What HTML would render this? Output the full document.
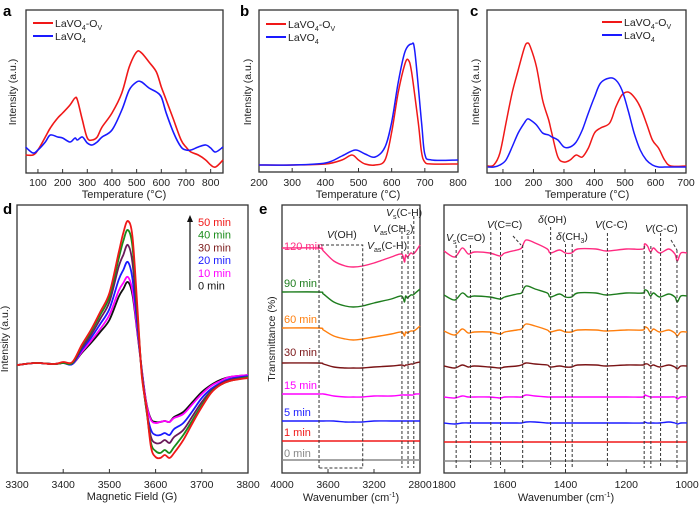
<!DOCTYPE html>
<html><head><meta charset="utf-8"><style>
body{margin:0;background:#fff;}
svg{display:block;font-family:"Liberation Sans",sans-serif;}
</style></head><body>
<svg id="fig" width="700" height="505" viewBox="0 0 700 505"></svg>
<script>
// ---------- DATA ----------
const aTemp=[50,80,100,130,150,180,200,230,250,260,280,300,320,340,360,400,440,470,500,520,550,580,600,620,650,680,700,720,750,780,800,820,850];
const aOv=[18,18,23,36,45,55,60,68,75,73,53,35,33,36,46,60,80,106,121,120,111,101,86,73,53,33,26,21,18,13,8,6,13];
const aBulk=[26,20,23,31,38,36,35,31,35,33,36,30,28,31,36,43,63,83,91,91,85,81,76,60,40,26,23,23,26,28,25,21,26];
const bTempOv=[200,300,400,450,480,500,520,550,580,600,620,640,650,660,680,690,700,720,800];
const bOv=[7,7,8,12,17,12,8,7,12,40,80,108,112,100,50,20,10,8,8];
const bTempBulk=[200,300,400,450,490,520,550,580,600,620,640,660,670,690,700,720,800];
const bBulk=[7,7,9,16,22,18,15,25,50,90,120,128,120,50,18,12,12];
const cTemp=[50,70,90,110,130,150,170,180,190,210,230,250,260,280,300,320,340,360,380,400,420,450,470,490,510,530,550,570,590,610,630,650,700];
const cOv=[7,8,20,50,80,103,125,130,126,106,73,53,40,16,11,13,18,16,25,40,45,50,66,78,81,76,66,50,33,25,13,7,7];
const cBulk=[6,6,8,13,26,40,50,54,53,48,40,38,36,33,26,26,31,43,60,76,90,95,93,83,63,40,23,13,8,6,6,6,6];
const dField=[3300,3340,3380,3400,3420,3440,3460,3480,3500,3520,3530,3540,3550,3560,3570,3580,3590,3600,3610,3620,3630,3640,3660,3680,3700,3720,3740,3760,3800];
const d0=[0,2,1,2,1,12,22,33,45,68,76,83,70,34,-4,-38,-54,-57,-57,-56,-57,-52,-47,-37,-27,-20,-15,-12,-10];
const d10=[0,2,1,2,1,13,24,36,50,74,82,88,74,36,-4,-39,-55,-58,-57,-56,-57,-53,-49,-39,-29,-21,-16,-12,-10];
const d20=[0,2,1,2,1,15,27,41,56,85,95,103,86,42,-6,-44,-65,-70,-70,-68,-70,-64,-58,-46,-33,-24,-18,-14,-11];
const d30=[0,2,1,2,2,17,30,46,63,98,110,120,102,50,-7,-45,-72,-78,-78,-75,-78,-72,-65,-51,-37,-26,-19,-15,-12];
const d40=[0,2,1,2,2,19,33,50,68,106,124,135,118,56,-8,-44,-78,-86,-88,-85,-88,-82,-70,-55,-40,-27,-20,-16,-12];
const d50=[0,2,1,3,3,20,35,53,72,112,132,144,128,62,-10,-42,-82,-92,-93,-90,-93,-88,-75,-58,-42,-28,-20,-16,-13];
const eWnL=[4000,3680,3640,3550,3450,3380,3300,3200,3050,2960,2935,2925,2910,2880,2860,2840,2800];
const eL120=[225,225,222,212,207,206,207,210,216,219,211,218,216,220,219,221,228];
const eL90=[181,181,179,171,167,166,167,170,174,177,171,177,175,178,178,180,184];
const eL60=[145,145,143,137,134,133,134,136,139,141,137,141,140,142,142,143,147];
const eL30=[110,110,109,106,105,105,105,106,107,108,107,108,108,109,109,110,111];
const eL15=[79,79,79,77,76,76,76,77,77,78,78,78,78,78,78,79,79];
const eL5=[52,52,52,52,51,51,51,52,52,52,52,52,52,52,52,52,52];
const eL1=[32,32,32,32,32,32,32,32,32,32,32,32,32,32,32,32,32];
const eL0=[13,13,13,13,13,13,13,13,13,13,13,13,13,13,13,13,13];
const eWnR=[1800,1765,1740,1720,1700,1650,1615,1600,1560,1545,1530,1500,1460,1450,1420,1400,1380,1360,1300,1265,1200,1145,1140,1130,1120,1110,1090,1060,1040,1032,1020,1000];
const eR120=[222,216,225,219,221,220,217,220,223,225,233,230,224,220,223,220,220,224,224,222,224,224,229,227,221,225,220,224,219,212,220,220];
const eR90=[178,173,180,176,177,176,174,176,179,180,187,184,180,176,179,176,176,180,180,178,180,180,183,182,177,180,176,179,176,171,177,177];
const eR60=[142,138,144,140,141,141,139,141,143,144,149,147,143,141,143,141,141,143,143,142,143,143,146,145,141,144,141,143,140,137,141,141];
const eR30=[107,105,108,106,107,106,105,106,107,108,110,109,108,106,107,106,106,108,108,107,108,108,109,109,107,108,106,108,106,104,107,107];
const eR15=[76,75,77,76,76,76,75,76,76,76,78,77,76,76,76,76,76,76,76,76,76,76,78,77,76,76,76,76,76,74,76,76];
const eR5=[50,49,50,50,50,50,50,50,50,50,51,51,50,50,50,50,50,50,50,50,50,50,51,50,50,50,50,51,50,49,50,50];
const eR1=[31,31,31,31,31,31,31,31,31,31,31,31,31,31,31,31,31,31,31,31,31,31,31,31,31,31,31,31,31,31,31,31];
const eR0=[12,12,12,12,12,12,12,12,12,12,12,12,12,12,12,12,12,12,12,12,12,12,12,12,12,12,12,12,12,12,12,12];
const aTicks=[100,200,300,400,500,600,700,800];
const bTicks=[200,300,400,500,600,700,800];
const cTicks=[100,200,300,400,500,600,700];
const dTicks=[3300,3400,3500,3600,3700,3800];
const eTicksL=[4000,3600,3200,2800];
const eTicksR=[1800,1600,1400,1200,1000];
const dLabels=['50 min','40 min','30 min','20 min','10 min','0 min'];
const eLabels=['120 min','90 min','60 min','30 min','15 min','5 min','1 min','0 min'];

// ---------- HELPERS ----------
const NS='http://www.w3.org/2000/svg';
const svg=document.getElementById('fig');
function mk(tag,attrs,parent){const e=document.createElementNS(NS,tag);for(const k in attrs)e.setAttribute(k,attrs[k]);(parent||svg).appendChild(e);return e;}
function lin(d0,d1,r0,r1){return v=>r0+(v-d0)*(r1-r0)/(d1-d0);}
function smooth(pts){let d='M'+pts[0][0].toFixed(1)+','+pts[0][1].toFixed(1);
 for(let i=0;i<pts.length-1;i++){const p0=pts[Math.max(i-1,0)],p1=pts[i],p2=pts[i+1],p3=pts[Math.min(i+2,pts.length-1)];
  const c1=[p1[0]+(p2[0]-p0[0])/6,p1[1]+(p2[1]-p0[1])/6],c2=[p2[0]-(p3[0]-p1[0])/6,p2[1]-(p3[1]-p1[1])/6];
  d+='C'+c1[0].toFixed(1)+','+c1[1].toFixed(1)+' '+c2[0].toFixed(1)+','+c2[1].toFixed(1)+' '+p2[0].toFixed(1)+','+p2[1].toFixed(1);}
 return d;}
function series(xs,ys,sx,sy,color,name,w){const p=mk('path',{d:smooth(xs.map((x,i)=>[sx(x),sy(ys[i])])),fill:'none',stroke:color,'stroke-width':w||1.5,'stroke-linejoin':'round'});
 
 return p;}
function txt(x,y,s,attrs,name){const t=mk('text',Object.assign({x:x,y:y,'font-size':11,fill:'#222'},attrs||{}));t.innerHTML=s;
 
 return t;}
function box(x0,y0,x1,y1,name){const r=mk('rect',{x:x0,y:y0,width:x1-x0,height:y1-y0,fill:'none',stroke:'#333','stroke-width':1.3});
 
 }
function xaxis(ticks,sx,y,ly,name){ticks.forEach(t=>{const l=mk('line',{x1:sx(t),x2:sx(t),y1:y,y2:y-4,stroke:'#333','stroke-width':1});
 
 
 txt(sx(t),ly,t,{'text-anchor':'middle','font-size':10.5},name+'-tick-label');});}
function ytitle(x,y,s,name){const t=txt(x,y,s,{'text-anchor':'middle',transform:'rotate(-90 '+x+' '+y+')','font-size':10.5},name);}
function legendLine(x,y,color,label,name){const l=mk('line',{x1:x,x2:x+20,y1:y,y2:y,stroke:color,'stroke-width':2});
 
 
 txt(x+22,y+4,label,{'font-size':10.5},name+'-label');}
const ovLabel='LaVO<tspan font-size="7" dy="3">4</tspan><tspan dy="-3">-O</tspan><tspan font-size="7" dy="3">V</tspan>';
const bulkLabel='LaVO<tspan font-size="7" dy="3">4</tspan>';
const RED='#f01818',BLUE='#1a1aff';

// ---------- PANEL A ----------
(function(){const sx=lin(50,850,25.6,223),sy=v=>173-v;
 box(26,10,223,173,'panel-a-frame');
 series(aTemp,aOv,sx,sy,RED,'panel-a-lavo4-ov-line',1.6);
 series(aTemp,aBulk,sx,sy,BLUE,'panel-a-lavo4-line',1.6);
 xaxis(aTicks,sx,173,186,'panel-a-x');
 txt(124,198,'Temperature (°C)',{'text-anchor':'middle','font-size':11},'panel-a-x-title');
 ytitle(16,92,'Intensity (a.u.)','panel-a-y-title');
 legendLine(33,23,RED,ovLabel,'panel-a-legend-ov');legendLine(33,36,BLUE,bulkLabel,'panel-a-legend-bulk');
 txt(3,16,'a',{'font-size':15,'font-weight':'bold',fill:'#000'},'panel-a-letter');})();
// ---------- PANEL B ----------
(function(){const sx=lin(200,800,259,458),sy=v=>172-v;
 box(259,10,458,172,'panel-b-frame');
 series(bTempOv,bOv,sx,sy,RED,'panel-b-lavo4-ov-line');
 series(bTempBulk,bBulk,sx,sy,BLUE,'panel-b-lavo4-line');
 xaxis(bTicks,sx,172,186,'panel-b-x');
 txt(358,198,'Temperature (°C)',{'text-anchor':'middle','font-size':11},'panel-b-x-title');
 ytitle(251,92,'Intensity (a.u.)','panel-b-y-title');
 legendLine(266,24,RED,ovLabel,'panel-b-legend-ov');legendLine(266,37,BLUE,bulkLabel,'panel-b-legend-bulk');
 txt(240,16,'b',{'font-size':15,'font-weight':'bold',fill:'#000'},'panel-b-letter');})();
// ---------- PANEL C ----------
(function(){const sx=lin(50,700,487.7,686),sy=v=>173-v;
 box(487,10,686,173,'panel-c-frame');
 series(cTemp,cOv,sx,sy,RED,'panel-c-lavo4-ov-line');
 series(cTemp,cBulk,sx,sy,BLUE,'panel-c-lavo4-line');
 xaxis(cTicks,sx,173,186,'panel-c-x');
 txt(587,198,'Temperature (°C)',{'text-anchor':'middle','font-size':11},'panel-c-x-title');
 ytitle(479,92,'Intensity (a.u.)','panel-c-y-title');
 legendLine(602,22,RED,ovLabel,'panel-c-legend-ov');legendLine(602,35,BLUE,bulkLabel,'panel-c-legend-bulk');
 txt(470,16,'c',{'font-size':15,'font-weight':'bold',fill:'#000'},'panel-c-letter');})();
// ---------- PANEL D ----------
(function(){const sx=lin(3300,3800,17,248),sy=v=>365-v;
 box(17,205,248,473,'panel-d-frame');
 const ser=[[d0,'#111','0'],[d10,'#ff00ff','10'],[d20,'#1a1aff','20'],[d30,'#6a1a5a','30'],[d40,'#1a8c1a','40'],[d50,'#f01818','50']];
 ser.forEach(s=>series(dField,s[0],sx,sy,s[1],'panel-d-epr-'+s[2]+'min-line',1.8));
 xaxis(dTicks,sx,473,488,'panel-d-x');
 txt(132,500,'Magnetic Field (G)',{'text-anchor':'middle','font-size':11},'panel-d-x-title');
 ytitle(8,339,'Intensity (a.u.)','panel-d-y-title');
 const cols=['#f01818','#1a8c1a','#7a1a1a','#1a1aff','#ff00ff','#111'];
 dLabels.forEach((l,i)=>txt(198,226+i*12.7,l,{'font-size':11,fill:cols[i]},'panel-d-legend-'+l.replace(' ','-')));
 mk('line',{x1:190,x2:190,y1:290,y2:219,stroke:'#111','stroke-width':1.2});
 mk('path',{d:'M187,222 L190,215 L193,222 Z',fill:'#111'});
 txt(3,214,'d',{'font-size':15,'font-weight':'bold',fill:'#000'},'panel-d-letter');})();
// ---------- PANEL E ----------
(function(){const sxL=lin(4000,2800,282,420),sxR=lin(1800,1000,444,687),sy=v=>473-v;
 box(282,205,420,473,'panel-e-left-frame');box(444,205,687,473,'panel-e-right-frame');
 const cols=['#ff2a80','#1e7d1e','#ff7f0e','#7a1416','#ff00ff','#1a1aff','#f01818','#888'];
 const L=[eL120,eL90,eL60,eL30,eL15,eL5,eL1,eL0],R=[eR120,eR90,eR60,eR30,eR15,eR5,eR1,eR0];
 L.forEach((a,i)=>series(eWnL,a,sxL,sy,cols[i],'panel-e-left-'+eLabels[i].replace(' ','-')+'-line',1.4));
 R.forEach((a,i)=>series(eWnR,a,sxR,sy,cols[i],'panel-e-right-'+eLabels[i].replace(' ','-')+'-line',1.4));
 const ly=[250,287,323,356,389,416,436,457];
 eLabels.forEach((l,i)=>txt(284,ly[i],l,{'font-size':11,fill:cols[i]},'panel-e-label-'+l.replace(' ','-')));
 const ds={stroke:'#333','stroke-width':1,'stroke-dasharray':'3,2',fill:'none'};
 mk('path',Object.assign({d:'M'+sxL(3678)+',468 V245 H'+sxL(3298)+' V468 Z'},ds));
 [[2957,226],[2904,236],[2854,216]].forEach(p=>mk('line',Object.assign({x1:sxL(p[0]),x2:sxL(p[0]),y1:p[1],y2:468},ds)));
 [[1760,245],[1713,245],[1646,232],[1614,232],[1541,245],[1449,227],[1400,244],[1378,244],[1262,233],[1141,246],[1119,246],[1087,233],[1033,250]].forEach(p=>mk('line',Object.assign({x1:sxR(p[0]),x2:sxR(p[0]),y1:p[1],y2:468},ds)));
 mk('path',Object.assign({d:'M513,236 L521,245'},ds));mk('path',Object.assign({d:'M671,240 L677,250'},ds));
 txt(327,238,'<tspan font-style="italic">V</tspan>(OH)',{'font-size':10.5},'panel-e-voh-label');
 txt(386,216,'<tspan font-style="italic">V</tspan><tspan font-size="7" dy="3">s</tspan><tspan dy="-3">(C-H)</tspan>',{'font-size':10.5},'panel-e-vsch-label');
 txt(373,232,'<tspan font-style="italic">V</tspan><tspan font-size="7" dy="3">as</tspan><tspan dy="-3">(CH</tspan><tspan font-size="7" dy="3">2</tspan><tspan dy="-3">)</tspan>',{'font-size':10.5},'panel-e-vasch2-label');
 txt(367,249,'<tspan font-style="italic">V</tspan><tspan font-size="7" dy="3">as</tspan><tspan dy="-3">(C-H)</tspan>',{'font-size':10.5},'panel-e-vasch-label');
 txt(446,241,'<tspan font-style="italic">V</tspan><tspan font-size="7" dy="3">s</tspan><tspan dy="-3">(C=O)</tspan>',{'font-size':10.5},'panel-e-vsco-label');
 txt(487,228,'<tspan font-style="italic">V</tspan>(C=C)',{'font-size':10.5},'panel-e-vcc-label');
 txt(538,223,'<tspan font-style="italic">δ</tspan>(OH)',{'font-size':10.5},'panel-e-doh-label');
 txt(556,240,'<tspan font-style="italic">δ</tspan>(CH<tspan font-size="7" dy="3">3</tspan><tspan dy="-3">)</tspan>',{'font-size':10.5},'panel-e-dch3-label');
 txt(595,228,'<tspan font-style="italic">V</tspan>(C-C)',{'font-size':10.5},'panel-e-vcc1-label');
 txt(645,232,'<tspan font-style="italic">V</tspan>(C-C)',{'font-size':10.5},'panel-e-vcc2-label');
 xaxis(eTicksL,sxL,473,488,'panel-e-left-x');xaxis(eTicksR,sxR,473,488,'panel-e-right-x');
 txt(351,501,'Wavenumber (cm<tspan font-size="7" dy="-4">-1</tspan><tspan dy="4">)</tspan>',{'text-anchor':'middle','font-size':11},'panel-e-left-x-title');
 txt(566,501,'Wavenumber (cm<tspan font-size="7" dy="-4">-1</tspan><tspan dy="4">)</tspan>',{'text-anchor':'middle','font-size':11},'panel-e-right-x-title');
 ytitle(275,339,'Transmittance (%)','panel-e-y-title');
 txt(259,214,'e',{'font-size':15,'font-weight':'bold',fill:'#000'},'panel-e-letter');})();
</script>
</body></html>
